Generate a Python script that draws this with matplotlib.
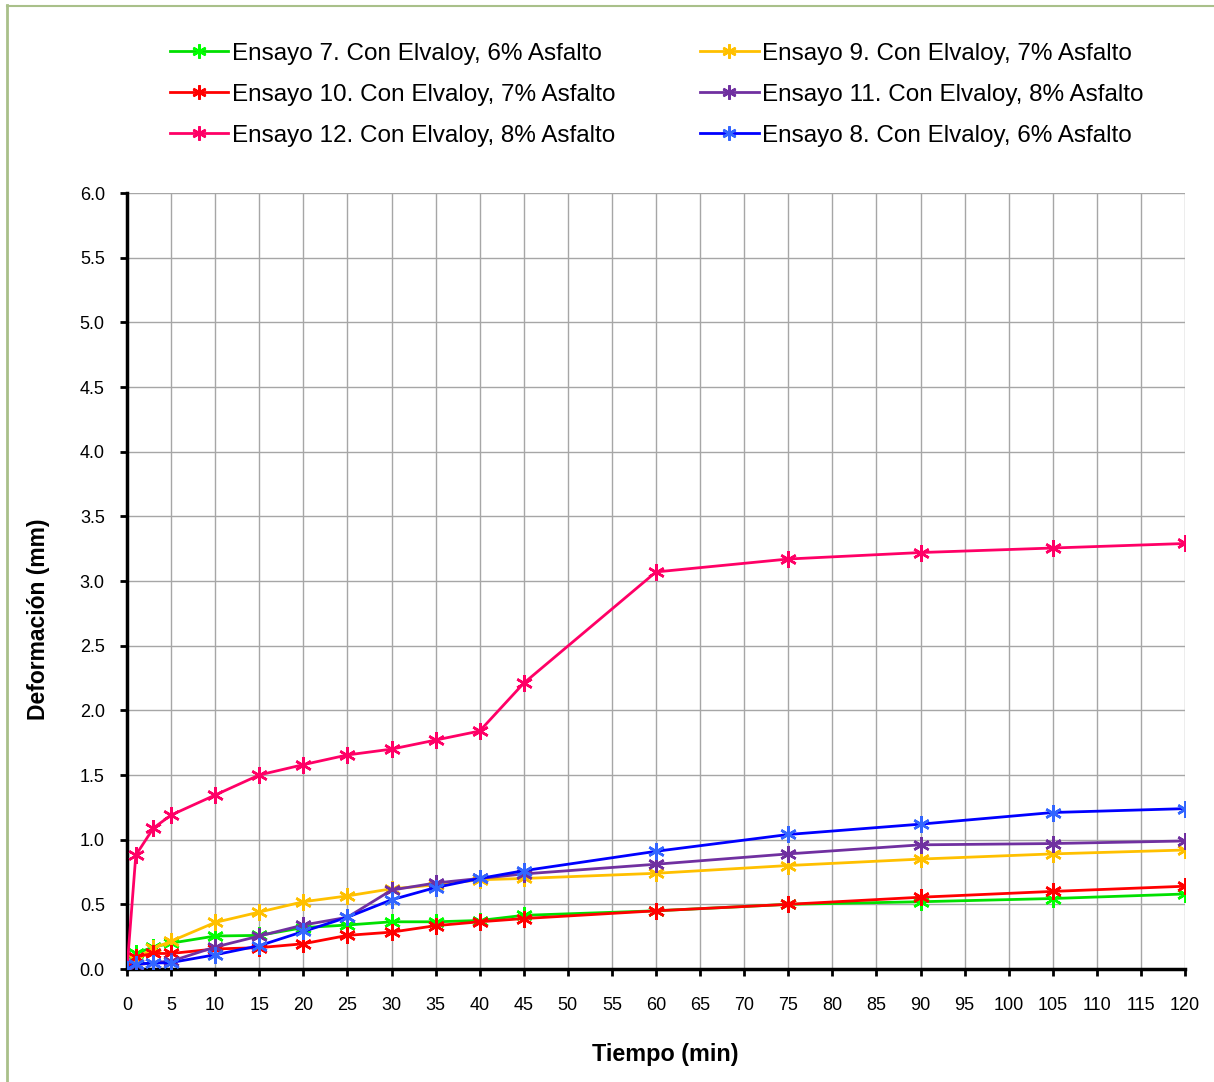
import matplotlib
matplotlib.use("Agg")
import matplotlib.pyplot as plt
from matplotlib.lines import Line2D

plt.rcParams['font.family'] = ['Liberation Sans', 'DejaVu Sans']

# Tiempo de ensayo (min)
tiempo = [0, 1, 3, 5, 10, 15, 20, 25, 30, 35, 40, 45, 60, 75, 90, 105, 120]

# Deformación (mm) por ensayo
ensayo_7 = [0.0, 0.12, 0.17, 0.20, 0.255, 0.26, 0.32, 0.34, 0.365, 0.365, 0.375, 0.415, 0.45, 0.50, 0.52, 0.545, 0.58]
ensayo_9 = [0.0, 0.08, 0.16, 0.215, 0.36, 0.44, 0.52, 0.565, 0.62, 0.65, 0.69, 0.70, 0.74, 0.80, 0.85, 0.89, 0.92]
ensayo_10 = [0.0, 0.095, 0.12, 0.12, 0.155, 0.165, 0.195, 0.26, 0.285, 0.335, 0.365, 0.39, 0.45, 0.50, 0.555, 0.60, 0.64]
ensayo_11 = [0.0, 0.03, 0.05, 0.06, 0.17, 0.255, 0.34, 0.40, 0.61, 0.665, 0.70, 0.735, 0.81, 0.89, 0.96, 0.97, 0.99]
ensayo_12 = [0.0, 0.88, 1.09, 1.19, 1.345, 1.50, 1.58, 1.655, 1.70, 1.77, 1.84, 2.21, 3.07, 3.17, 3.22, 3.255, 3.29]
ensayo_8 = [0.0, 0.04, 0.045, 0.05, 0.11, 0.18, 0.29, 0.40, 0.535, 0.63, 0.70, 0.76, 0.91, 1.04, 1.12, 1.21, 1.24]

series = [
    ("Ensayo 7. Con Elvaloy, 6% Asfalto", ensayo_7, "#00E000", "#00FF00"),
    ("Ensayo 9. Con Elvaloy, 7% Asfalto", ensayo_9, "#FFC000", "#FFC000"),
    ("Ensayo 10. Con Elvaloy, 7% Asfalto", ensayo_10, "#FF0000", "#FF0000"),
    ("Ensayo 11. Con Elvaloy, 8% Asfalto", ensayo_11, "#7030A0", "#7030A0"),
    ("Ensayo 12. Con Elvaloy, 8% Asfalto", ensayo_12, "#FF0066", "#FF0066"),
    ("Ensayo 8. Con Elvaloy, 6% Asfalto", ensayo_8, "#0000FF", "#3366FF"),
]

star = (6, 2, 0)

fig = plt.figure(figsize=(12.14, 10.82), dpi=100)
W, H = 1214, 1082
ax = fig.add_axes([127 / W, (H - 969) / H, (1185 - 127) / W, (969 - 193) / H])

handles = {}
for label, vals, lc, mc in series:
    ln, = ax.plot(tiempo, vals, color=lc, lw=2.0, marker=star, markersize=12,
                  markeredgecolor=mc, markerfacecolor=mc, markeredgewidth=1.8,
                  label=label, zorder=3)
    handles[label] = ln

ax.set_xlim(0, 120)
ax.set_ylim(0, 6.0)
ax.set_xticks(range(0, 121, 5))
ax.set_yticks([i * 0.5 for i in range(13)])
ax.set_yticklabels([f"{i * 0.5:.1f}" for i in range(13)])
ax.grid(True, color="#A6A6A6", lw=1.0, zorder=0)
ax.set_axisbelow(True)
for s in ("top", "right"):
    ax.spines[s].set_visible(False)
for s in ("left", "bottom"):
    ax.spines[s].set_linewidth(2.5)
    ax.spines[s].set_color("black")
ax.tick_params(axis="both", direction="out", length=5, width=2, colors="black",
               labelsize=13)
ax.tick_params(axis="x", pad=15)
ax.tick_params(axis="y", pad=11)

ax.set_xlabel("Tiempo (min)", fontsize=16.8, fontweight="bold")
ax.set_ylabel("Deformación (mm)", fontsize=16.5, fontweight="bold")
ax.xaxis.set_label_coords((665 - 127) / 1058, -(1054 - 969) / 776, transform=ax.transAxes)
ax.xaxis.label.set_verticalalignment("center")
ax.yaxis.set_label_coords(-(127 - 39) / 1058, (969 - 619) / 776, transform=ax.transAxes)
ax.yaxis.label.set_verticalalignment("center")

order = [0, 2, 4, 1, 3, 5]
leg_h = [handles[series[i][0]] for i in order]
leg_l = [series[i][0] for i in order]
leg = fig.legend(leg_h, leg_l, ncol=2, loc="upper left",
                 bbox_to_anchor=(160 / W, 1 - 33 / H), frameon=False,
                 fontsize=17.5, handlelength=2.4, handletextpad=0.15,
                 columnspacing=3.5, labelspacing=0.78, borderaxespad=0,
                 markerscale=0.85)

# Marco del gráfico
fig.add_artist(Line2D([6.5 / W, 6.5 / W], [0, 1 - 5 / H], transform=fig.transFigure,
                      color="#A9C08A", lw=2))
fig.add_artist(Line2D([6.5 / W, 1], [1 - 5.5 / H, 1 - 5.5 / H], transform=fig.transFigure,
                      color="#A9C08A", lw=1.5))

fig.savefig("out.png", dpi=100)
